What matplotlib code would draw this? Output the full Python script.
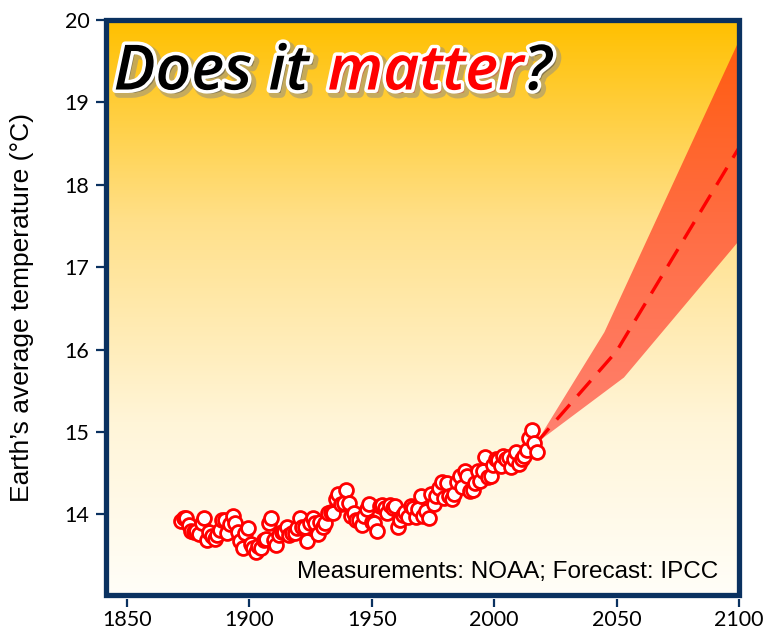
import numpy as np
import matplotlib.pyplot as plt
import matplotlib.patheffects as pe
from matplotlib.colors import LinearSegmentedColormap
from matplotlib.patches import Polygon, Rectangle

# NOAA annual global temperature (deg C), 1880-2018
years = np.arange(1880, 2019)
temps = [
    13.92, 13.96, 13.95, 13.87, 13.80, 13.79, 13.80, 13.76, 13.90, 13.95,
    13.69, 13.78, 13.74, 13.70, 13.75, 13.81, 13.93, 13.93, 13.77, 13.88,
    13.98, 13.89, 13.78, 13.67, 13.59, 13.77, 13.83, 13.64, 13.59, 13.54,
    13.61, 13.59, 13.69, 13.70, 13.89, 13.95, 13.69, 13.63, 13.75, 13.78,
    13.78, 13.85, 13.75, 13.77, 13.77, 13.83, 13.96, 13.85, 13.85, 13.68,
    13.90, 13.96, 13.89, 13.76, 13.91, 13.85, 13.89, 14.02, 14.03, 14.02,
    14.19, 14.25, 14.12, 14.14, 14.30, 14.14, 13.98, 14.02, 13.93, 13.93,
    13.87, 13.98, 14.06, 14.13, 13.91, 13.90, 13.80, 14.10, 14.11, 14.08,
    14.02, 14.11, 14.08, 14.10, 13.84, 13.93, 13.99, 14.03, 13.97, 14.10,
    14.08, 13.97, 14.06, 14.22, 13.98, 14.04, 13.95, 14.24, 14.12, 14.22,
    14.32, 14.39, 14.20, 14.38, 14.22, 14.18, 14.24, 14.39, 14.46, 14.33,
    14.52, 14.47, 14.28, 14.29, 14.38, 14.52, 14.40, 14.53, 14.69, 14.45,
    14.46, 14.60, 14.67, 14.66, 14.58, 14.71, 14.67, 14.69, 14.57, 14.67,
    14.75, 14.61, 14.67, 14.71, 14.78, 14.92, 15.02, 14.87, 14.76,
]

# IPCC forecast: upper and lower bounds plus central estimate
upper_years = [2017, 2045, 2100]
upper_temps = [14.86, 16.21, 19.75]
lower_years = [2017, 2053, 2100]
lower_temps = [14.86, 15.66, 17.32]
mid_years = [2017, 2050, 2100]
mid_temps = [14.86, 15.98, 18.45]

x_ticks = [1850, 1900, 1950, 2000, 2050, 2100]
y_ticks = [14, 15, 16, 17, 18, 19, 20]

navy = '#0A3160'

fig = plt.figure(figsize=(7.67, 6.35), dpi=100)
ax = fig.add_axes([0.1382, 0.063, 0.8253, 0.9055])
ax.set_xlim(1841.4, 2100)
ax.set_ylim(13.02, 20)

# warm background fading from orange at the top to white at the bottom
bg_cmap = LinearSegmentedColormap.from_list(
    'bg', [(0, '#FFFEF8'), (0.3, '#FFF5D8'), (0.65, '#FFE08A'), (1, '#FFC000')])
grad = np.linspace(0, 1, 256).reshape(-1, 1)
ax.imshow(grad, extent=[0, 1, 0, 1], transform=ax.transAxes, origin='lower',
          aspect='auto', cmap=bg_cmap, zorder=0)

# forecast band, shaded with its own gradient
band_cmap = LinearSegmentedColormap.from_list(
    'band', [(0, '#FF8272'), (0.5, '#FF6E45'), (1, '#FF5A0A')])
band_xy = np.column_stack([upper_years + lower_years[::-1],
                           upper_temps + lower_temps[::-1]])
band = Polygon(band_xy, closed=True, fill=False, lw=0)
ax.add_patch(band)
band_img = ax.imshow(grad, extent=[2010, 2100, 14.8, 20], origin='lower',
                     aspect='auto', cmap=band_cmap, zorder=1)
band_img.set_clip_path(band)
ax.plot(mid_years, mid_temps, color='#FF0000', lw=2.4, dashes=(6, 3.5),
        zorder=2)

# frame around the plot area
ax.add_patch(Rectangle((0, 0), 1, 1, transform=ax.transAxes, fill=False,
                       ec=navy, lw=3.8, clip_on=False, zorder=10))
for s in ax.spines.values():
    s.set_visible(False)
ax.spines['bottom'].set_position(('outward', 3))

ax.set_xticks(x_ticks)
ax.set_yticks(y_ticks)
ax.tick_params(axis='both', direction='out', color=navy, width=1.6,
               labelsize=15.5, labelcolor='black')
ax.tick_params(axis='x', length=6, pad=2)
ax.tick_params(axis='y', length=7, pad=5)
for lab in ax.get_xticklabels() + ax.get_yticklabels():
    lab.set_family('Lato')

ax.set_ylabel('Earth\u2019s average temperature (\u00b0C)', fontsize=19,
              family='Liberation Sans', labelpad=22)

# measurements sit on their own x scale
axd = ax.twiny()
axd.set_xlim(1850.93, 2096.3)
axd.xaxis.set_visible(False)
for s in axd.spines.values():
    s.set_visible(False)
axd.plot(years, temps, 'o', ms=10, mfc='white', mec='#FF0000', mew=2,
         zorder=3)

ax.text(0.967, 0.02, 'Measurements: NOAA; Forecast: IPCC',
        transform=ax.transAxes, ha='right', va='bottom', fontsize=17.5,
        family='Liberation Sans', zorder=11)

# headline
effects = [pe.Stroke(linewidth=7, foreground='#8C8C8C', alpha=0.5,
                     offset=(2.5, -2.5)),
           pe.Stroke(linewidth=5, foreground='white'),
           pe.Normal()]
title_font = dict(fontsize=45, family='Open Sans', weight='semibold',
                  style='italic')
t1 = ax.text(0.012, 0.853, 'Does it ', transform=ax.transAxes, color='black',
             va='bottom', path_effects=effects, zorder=12, **title_font)
t2 = ax.annotate('matter', xy=(1, 0), xycoords=t1, xytext=(2, 0),
                 textcoords='offset points', va='bottom', color='#FF0000',
                 path_effects=effects, zorder=12, **title_font)
ax.annotate('?', xy=(1, 0), xycoords=t2, va='bottom', color='black',
            path_effects=effects, zorder=12, **title_font)

fig.savefig('out.png', dpi=100)
